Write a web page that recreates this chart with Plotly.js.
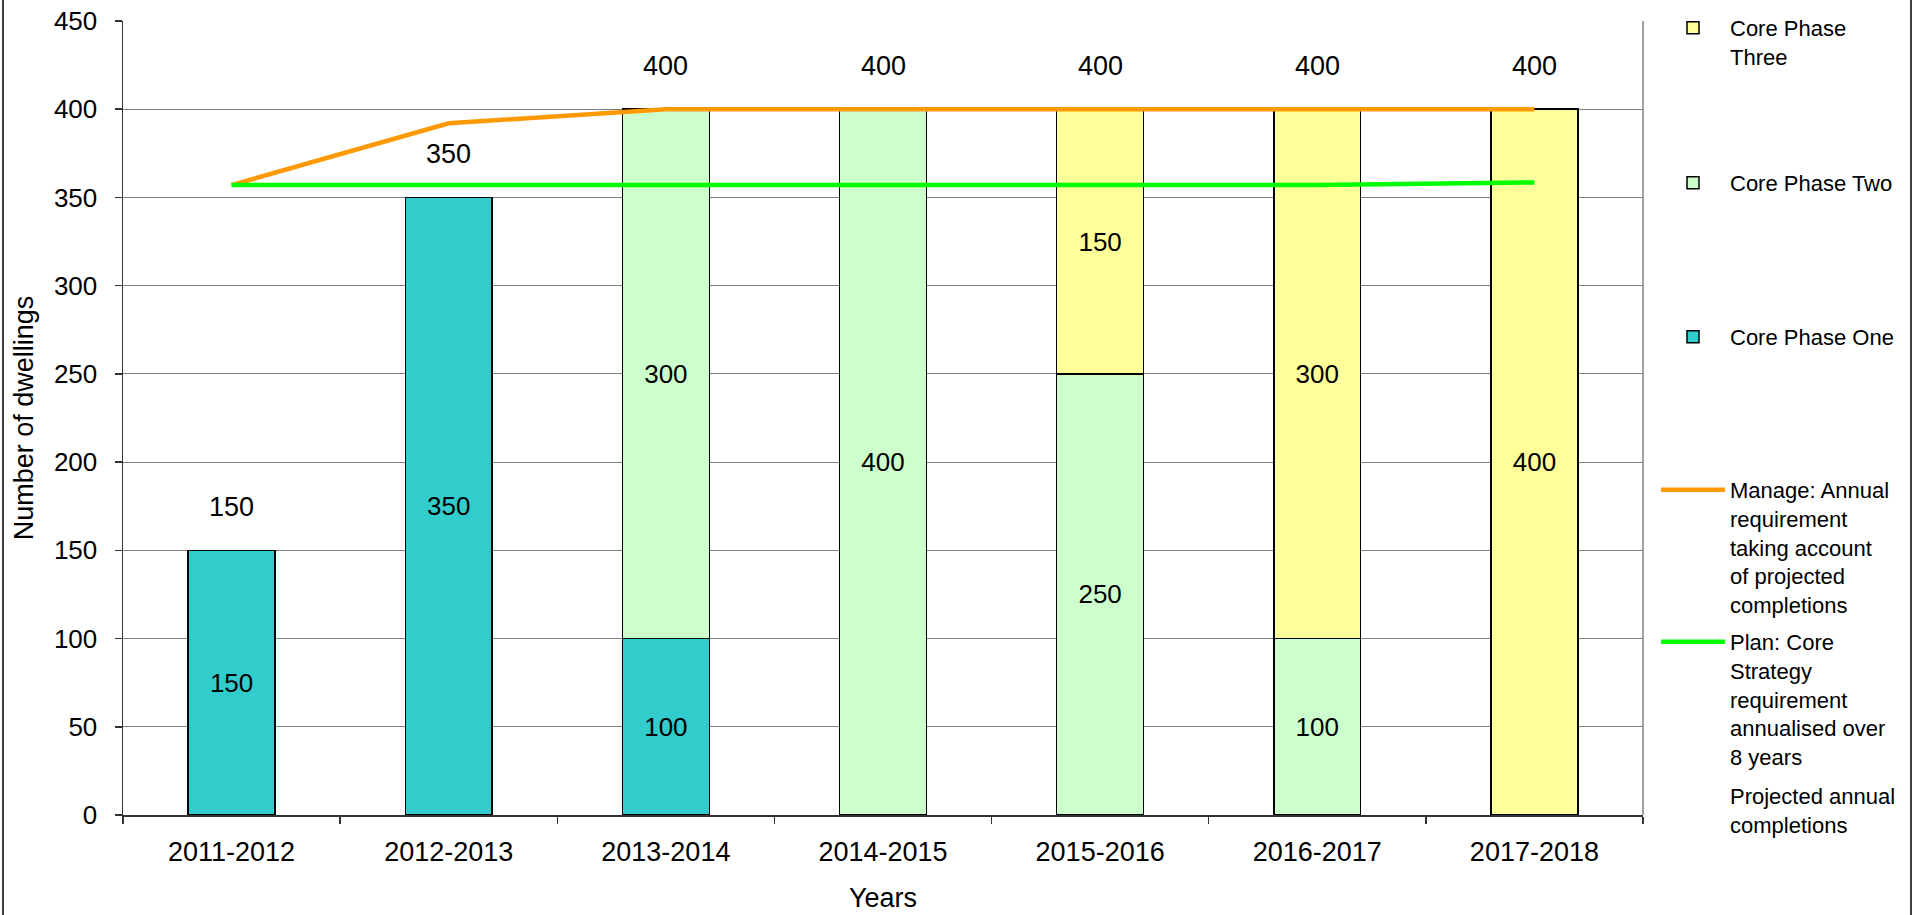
<!DOCTYPE html>
<html>
<head>
<meta charset="utf-8">
<script src="https://cdn.plot.ly/plotly-3.0.1.min.js"></script>
<style>
html,body{margin:0;padding:0;background:#fff;}
#chart{width:1928px;height:915px;}
</style>
</head>
<body>
<div id="chart"></div>
<script>
var years = ['2011-2012','2012-2013','2013-2014','2014-2015','2015-2016','2016-2017','2017-2018'];
var phaseOne = [150, 350, 100, null, null, null, null];
var phaseTwo = [null, null, 300, 400, 250, 100, null];
var phaseThree = [null, null, null, null, 150, 300, 400];
var manage = [357, 392, 400, 400, 400, 400, 400];
var plan = [357, 357, 357, 357, 357, 357, 358.5];
var projected = [150, 350, 400, 400, 400, 400, 400];

var FONT = 'Liberation Sans, Arial, sans-serif';
var PL = 123, PR = 1643, PT = 21, PB = 815;
function px2x(p){ return (p - PL) / (PR - PL); }
function py2y(p){ return (PB - p) / (PB - PT); }

function barTrace(name, vals, color, leg){
  return {
    type: 'bar', name: name, x: years, y: vals,
    marker: {color: color, line: {color: '#000', width: 1.5}},
    text: vals.map(function(v){ return v === null ? '' : String(v); }),
    textposition: 'inside', insidetextanchor: 'middle', textangle: 0,
    insidetextfont: {family: FONT, size: 26, color: '#000'},
    constraintext: 'none',
    hoverinfo: 'x+y+name', legend: leg
  };
}

var traces = [
  barTrace('Core Phase One', phaseOne, '#33CCCC', 'legend3'),
  barTrace('Core Phase Two', phaseTwo, '#CCFFCC', 'legend2'),
  barTrace('Core Phase<br>Three', phaseThree, '#FFFF99', 'legend'),
  {type: 'scatter', mode: 'lines', name: 'Manage: Annual<br>requirement<br>taking account<br>of projected<br>completions',
   x: years, y: manage, line: {color: '#FF9900', width: 4.5}, legend: 'legend4'},
  {type: 'scatter', mode: 'lines', name: 'Plan: Core<br>Strategy<br>requirement<br>annualised over<br>8 years',
   x: years, y: plan, line: {color: '#00FF00', width: 4.5}, legend: 'legend5'},
  {type: 'scatter', mode: 'lines', name: 'Projected annual<br>completions',
   x: years, y: projected, line: {color: 'rgba(0,0,0,0)', width: 0}, hoverinfo: 'skip', legend: 'legend6'}
];

var annotations = projected.map(function(v, i){
  return {x: years[i], y: v, xref: 'x', yref: 'y', yshift: 43, text: String(v),
          showarrow: false, font: {family: FONT, size: 27, color: '#000'}};
});

function leg(topPx){
  return {x: px2x(1656), xanchor: 'left', y: py2y(topPx), yanchor: 'top',
          bgcolor: 'rgba(0,0,0,0)', borderwidth: 0, itemwidth: 64, valign: 'top',
          font: {family: FONT, size: 22, color: '#000'}, traceorder: 'normal'};
}

var layout = {
  width: 1928, height: 915,
  margin: {l: PL, r: 1928 - PR, t: PT, b: 915 - PB, pad: 0, autoexpand: false},
  paper_bgcolor: '#fff', plot_bgcolor: '#fff',
  barmode: 'stack', bargap: 0.6,
  font: {family: FONT, color: '#000'},
  showlegend: true,
  xaxis: {type: 'category', tickson: 'boundaries', ticks: 'outside', ticklen: 7, tickcolor: '#333', tickwidth: 1.5,
          showline: true, linecolor: '#333', linewidth: 1.5, showgrid: false,
          tickfont: {family: FONT, size: 27, color: '#000'}, ticklabelstandoff: 12,
          title: {text: 'Years', font: {family: FONT, size: 27, color: '#000'}, standoff: 22}},
  yaxis: {range: [0, 450], dtick: 50, tick0: 0, ticks: 'outside', ticklen: 7, tickcolor: '#333', tickwidth: 1.5,
          showline: true, linecolor: '#333', linewidth: 1.5, showgrid: true, gridcolor: '#808080', gridwidth: 1,
          zeroline: false, tickfont: {family: FONT, size: 26, color: '#000'}, ticklabelstandoff: 12,
          title: {text: 'Number of dwellings', font: {family: FONT, size: 27, color: '#000'}, standoff: 12}},
  legend: leg(7), legend2: leg(162), legend3: leg(316),
  legend4: leg(469), legend5: leg(621), legend6: leg(775),
  annotations: annotations,
  shapes: [
    {type: 'line', xref: 'paper', yref: 'paper', x0: 1, x1: 1, y0: 0, y1: 1, line: {color: '#808080', width: 1.5}},
    {type: 'line', xref: 'paper', yref: 'paper', x0: px2x(3), x1: px2x(3), y0: -0.2, y1: 1.1, line: {color: '#000', width: 1.5}},
    {type: 'line', xref: 'paper', yref: 'paper', x0: px2x(1911), x1: px2x(1911), y0: -0.2, y1: 1.1, line: {color: '#000', width: 1.5}}
  ]
};

Plotly.newPlot('chart', traces, layout, {displayModeBar: false, staticPlot: true});
</script>
</body>
</html>
